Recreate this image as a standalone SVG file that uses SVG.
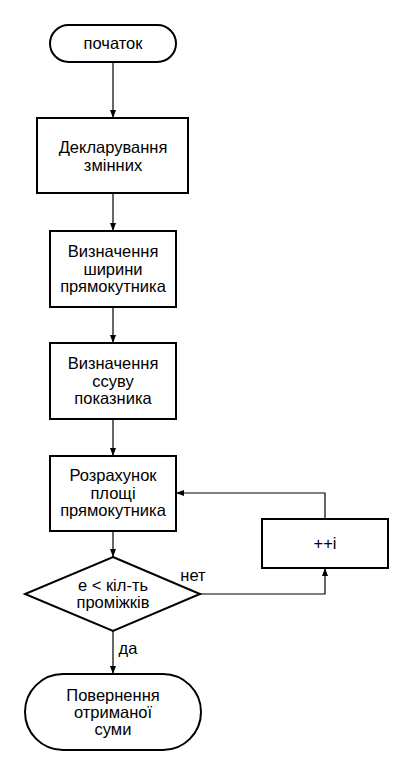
<svg xmlns="http://www.w3.org/2000/svg" width="413" height="775" viewBox="0 0 413 775">
<style>
.n{fill:#fff;stroke:#000;stroke-width:2}
.t{font-family:"Liberation Sans",Arial,sans-serif;font-size:16.5px;fill:#000;text-anchor:middle}
.c{fill:none;stroke:#000;stroke-width:1.2}
</style>
<defs>
<marker id="a" viewBox="0 0 8 8" refX="8" refY="4" markerWidth="8" markerHeight="8" markerUnits="userSpaceOnUse" orient="auto">
<path d="M0,1 L8,4 L0,7 Z" fill="#000"/>
</marker>
</defs>
<rect width="413" height="775" fill="#fff"/>
<g id="connectors">
<path class="c" d="M113,62 V118" marker-end="url(#a)"/>
<path class="c" d="M113,193 V231" marker-end="url(#a)"/>
<path class="c" d="M113,307 V343" marker-end="url(#a)"/>
<path class="c" d="M113,419 V456" marker-end="url(#a)"/>
<path class="c" d="M113,531 V557" marker-end="url(#a)"/>
<path class="c" d="M113,631 V674" marker-end="url(#a)"/>
<path class="c" d="M200,594 H325 V568" marker-end="url(#a)"/>
<path class="c" d="M325,519 V493 H176" marker-end="url(#a)"/>
<text class="t" x="193" y="581">нет</text>
<text class="t" x="128" y="654">да</text>
</g>
<g id="start">
<rect class="n" x="50" y="25" width="126" height="37" rx="18.5"/>
<text class="t" x="113" y="49">початок</text>
</g>
<g id="declare">
<rect class="n" x="37" y="118" width="151" height="75"/>
<text class="t" x="113" y="153">Декларування</text>
<text class="t" x="113" y="171">змінних</text>
</g>
<g id="width">
<rect class="n" x="50" y="231" width="126" height="76"/>
<text class="t" x="113" y="257">Визначення</text>
<text class="t" x="113" y="274.5">ширини</text>
<text class="t" x="113" y="292">прямокутника</text>
</g>
<g id="shift">
<rect class="n" x="50" y="343" width="126" height="76"/>
<text class="t" x="113" y="369">Визначення</text>
<text class="t" x="113" y="386.5">ссуву</text>
<text class="t" x="113" y="404">показника</text>
</g>
<g id="area">
<rect class="n" x="50" y="456" width="126" height="75"/>
<text class="t" x="113" y="481">Розрахунок</text>
<text class="t" x="113" y="498.5">площі</text>
<text class="t" x="113" y="516">прямокутника</text>
</g>
<g id="cond">
<polygon class="n" points="113,557 200,594 113,631 25,594"/>
<text class="t" x="113" y="591">e &lt; кіл-ть</text>
<text class="t" x="113" y="608">проміжків</text>
</g>
<g id="inc">
<rect class="n" x="262" y="519" width="126" height="49"/>
<text class="t" x="325" y="549">++i</text>
</g>
<g id="end">
<rect class="n" x="25" y="674" width="176" height="76" rx="38"/>
<text class="t" x="113" y="701">Повернення</text>
<text class="t" x="113" y="718">отриманої</text>
<text class="t" x="113" y="735">суми</text>
</g>
</svg>
